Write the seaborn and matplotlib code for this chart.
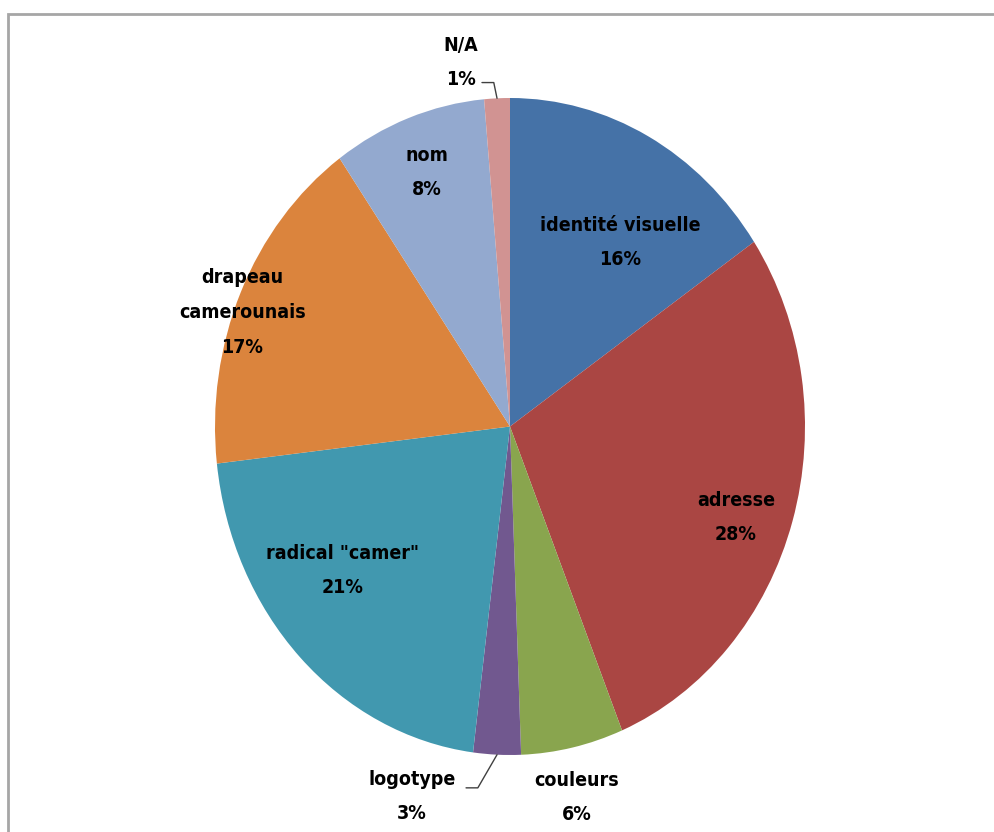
import numpy as np
import seaborn as sns
import matplotlib.pyplot as plt
from matplotlib.patches import Rectangle

# -----------------------------------------------
# Data (clockwise from 12 o'clock)
# -----------------------------------------------
categories = ['identité visuelle', 'adresse', 'couleurs', 'logotype',
              'radical "camer"', 'drapeau\ncamerounais', 'nom', 'N/A']
shares = [15.5, 28.3, 5.6, 2.6, 21.2, 17.0, 8.4, 1.4]
colors = ['#4572A7', '#AA4643', '#89A54E', '#71588F',
          '#4198AF', '#DB843D', '#93A9CF', '#D19392']

# label anchor points (data units, pie radius = 1)
label_pos = [(0.373, 0.56), (0.766, -0.277), (0.227, -1.129), (-0.332, -1.126),
             (-0.569, -0.438), (-0.908, 0.347), (-0.281, 0.773), (-0.166, 1.108)]
# slices that get a leader line: index -> start of the line near the text
leaders = {3: (-0.149, -1.10), 7: (-0.095, 1.047)}

# -----------------------------------------------
# Style
# -----------------------------------------------
sns.set_theme(style="white")
plt.rcParams['font.family'] = ['DejaVu Sans']

fig = plt.figure(figsize=(9.95, 8.32), dpi=100)
W, H = 995, 832
# pie spans px 215..805 horizontally, 98..755 vertically (stretched)
ax = fig.add_axes([215 / W, (H - 755) / H, 590 / W, 657 / H])

wedges, _ = ax.pie(shares, colors=colors, startangle=90, counterclock=False,
                   wedgeprops=dict(edgecolor='none'))
ax.set_aspect('auto')
ax.set_xlim(-1, 1)
ax.set_ylim(-1, 1)
ax.axis('off')

total = sum(shares)
cum = np.cumsum([0] + shares)
for i, (name, v) in enumerate(zip(categories, shares)):
    x, y = label_pos[i]
    ax.text(x, y, f"{name}\n{v / total * 100:.0f}%", ha='center', va='center',
            fontsize=14, fontweight='bold', fontstretch='condensed',
            color='black', linespacing=2.05, clip_on=False)
    if i in leaders:
        mid = (cum[i] + cum[i + 1]) / 2 / total * 2 * np.pi
        ex, ey = np.sin(mid), np.cos(mid)
        sx, sy = leaders[i]
        ax.plot([sx, sx + 0.04, ex], [sy, sy, ey], color='#404040', lw=1,
                clip_on=False)

# chart area frame (runs off the right and bottom of the picture)
fig.patches.append(Rectangle((8 / W, -0.1), 1.2, 1 - 14 / H + 0.1,
                             transform=fig.transFigure, fill=False,
                             edgecolor='#a6a6a6', lw=2))

fig.savefig('out.png', dpi=100)
